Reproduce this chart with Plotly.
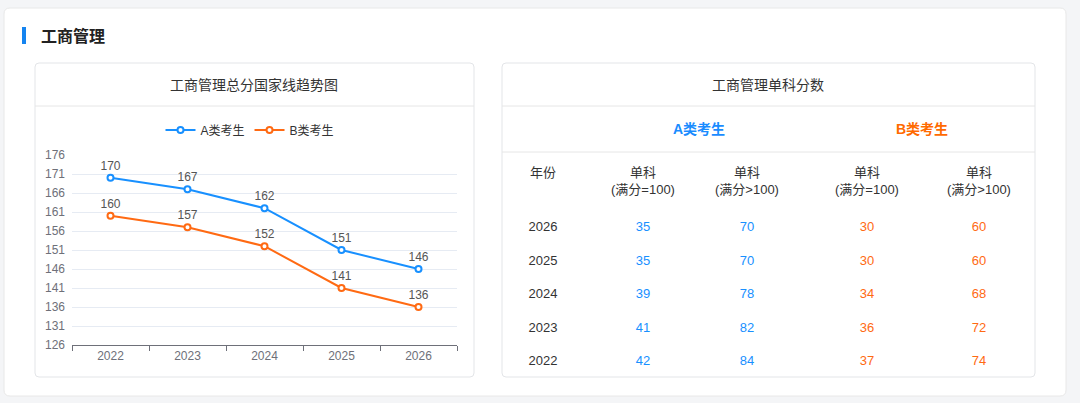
import plotly.graph_objects as go

# ---------------- data ----------------
years = ["2022", "2023", "2024", "2025", "2026"]
total_a = [170, 167, 162, 151, 146]
total_b = [160, 157, 152, 141, 136]
series_names = ["A类考生", "B类考生"]

table_years = ["2026", "2025", "2024", "2023", "2022"]
a_eq100 = [35, 35, 39, 41, 42]
a_gt100 = [70, 70, 78, 82, 84]
b_eq100 = [30, 30, 34, 36, 37]
b_gt100 = [60, 60, 68, 72, 74]

page_title = "工商管理"
chart_title = "工商管理总分国家线趋势图"
table_title = "工商管理单科分数"
col_headers = ["年份", "单科<br>(满分=100)", "单科<br>(满分>100)", "单科<br>(满分=100)", "单科<br>(满分>100)"]

# ---------------- layout helpers ----------------
W, H = 1080, 403
BLUE = "#1890ff"
ORANGE = "#ff6a13"
TXT = "#333333"
FONT = "Liberation Sans, Noto Sans CJK SC, sans-serif"


def px(x):
    return x / W


def py(y):
    return 1 - y / H


def rrect(x0, y0, x1, y1, r, fill, line):
    p = (f"M {px(x0 + r)},{py(y0)} L {px(x1 - r)},{py(y0)} "
         f"Q {px(x1)},{py(y0)} {px(x1)},{py(y0 + r)} "
         f"L {px(x1)},{py(y1 - r)} Q {px(x1)},{py(y1)} {px(x1 - r)},{py(y1)} "
         f"L {px(x0 + r)},{py(y1)} Q {px(x0)},{py(y1)} {px(x0)},{py(y1 - r)} "
         f"L {px(x0)},{py(y0 + r)} Q {px(x0)},{py(y0)} {px(x0 + r)},{py(y0)} Z")
    return dict(type="path", path=p, xref="paper", yref="paper",
                fillcolor=fill, line=dict(color=line, width=1), layer="below")


def hline(y, x0, x1, color="#e6e6e6"):
    return dict(type="line", xref="paper", yref="paper", x0=px(x0), x1=px(x1),
                y0=py(y), y1=py(y), line=dict(color=color, width=1), layer="below")


fig = go.Figure()

# line chart
for name, vals, col in [(series_names[0], total_a, BLUE), (series_names[1], total_b, ORANGE)]:
    fig.add_trace(go.Scatter(
        x=years, y=vals, name=name, mode="lines+markers+text",
        text=[str(v) for v in vals], textposition="top center",
        textfont=dict(color="#555555", size=12, family=FONT),
        line=dict(color=col, width=2),
        marker=dict(symbol="circle", size=6, color="white", line=dict(color=col, width=2)),
        xaxis="x", yaxis="y", cliponaxis=False,
    ))

# table cells
col_x = [543, 643, 747, 867, 979]
cols = [
    (table_years, "#333333"),
    (a_eq100, BLUE),
    (a_gt100, BLUE),
    (b_eq100, ORANGE),
    (b_gt100, ORANGE),
]
for cx, (vals, color) in zip(col_x, cols):
    fig.add_trace(go.Scatter(
        x=[cx] * len(table_years), y=table_years, mode="text",
        text=[str(v) for v in vals],
        textfont=dict(color=color, size=13, family=FONT),
        textposition="middle center", showlegend=False, hoverinfo="skip",
        xaxis="x2", yaxis="y2",
    ))

shapes = [
    rrect(4, 8, 1066, 396, 6, "white", "#e8e8e8"),
    dict(type="rect", xref="paper", yref="paper", x0=px(22), x1=px(26), y0=py(44), y1=py(27),
         fillcolor="#1584f0", line=dict(width=0), layer="below"),
    rrect(35, 63, 474, 377, 4, "white", "#e3e5e8"),
    hline(106, 35, 474),
    rrect(502, 63, 1035, 377, 4, "white", "#e3e5e8"),
    hline(106, 502, 1035),
    hline(152, 502, 1035),
]

annotations = [
    dict(text=f"<b>{page_title}</b>", x=px(39), y=py(36), xanchor="left", yanchor="middle",
         font=dict(size=16, color="#222222", family=FONT)),
    dict(text=chart_title, x=px(254), y=py(85), xanchor="center", yanchor="middle",
         font=dict(size=14, color=TXT, family=FONT)),
    dict(text=table_title, x=px(768), y=py(85), xanchor="center", yanchor="middle",
         font=dict(size=14, color=TXT, family=FONT)),
    dict(text=f"<b>{series_names[0]}</b>", x=px(699), y=py(129), xanchor="center", yanchor="middle",
         font=dict(size=14, color="#1a8cff", family=FONT)),
    dict(text=f"<b>{series_names[1]}</b>", x=px(922), y=py(129), xanchor="center", yanchor="middle",
         font=dict(size=14, color="#ff6a00", family=FONT)),
]
for cx, h in zip(col_x, col_headers):
    annotations.append(dict(text=h, x=px(cx), y=py(163), xanchor="center", yanchor="top",
                            align="center", font=dict(size=13, color=TXT, family=FONT)))
for a in annotations:
    a.update(xref="paper", yref="paper", showarrow=False)

fig.update_layout(
    width=W, height=H, margin=dict(l=0, r=0, t=0, b=0, pad=0, autoexpand=False),
    paper_bgcolor="#f4f5f7", plot_bgcolor="rgba(0,0,0,0)",
    font=dict(family=FONT, color=TXT),
    shapes=shapes, annotations=annotations,
    showlegend=True,
    legend=dict(orientation="h", x=px(250), xanchor="center", y=py(130), yanchor="middle",
                font=dict(size=12, color="#333333", family=FONT), bgcolor="rgba(0,0,0,0)",
                itemwidth=30, tracegroupgap=0),
    xaxis=dict(domain=[px(72), px(457)], type="category", range=[-0.5, 4.5],
               showline=True, linecolor="#6e7079", linewidth=1,
               ticks="outside", tickson="boundaries", ticklen=5, tickcolor="#6e7079",
               tickfont=dict(size=12, color="#6e7079", family=FONT), showgrid=False,
               anchor="y", fixedrange=True, automargin=False),
    yaxis=dict(domain=[py(345), py(155)], range=[126, 176], tick0=126, dtick=5,
               showgrid=True, gridcolor="#e6ebf3", gridwidth=1, zeroline=False,
               showline=False, ticks="", ticklabelstandoff=6,
               tickfont=dict(size=12, color="#6e7079", family=FONT), anchor="x",
               automargin=False),
    xaxis2=dict(domain=[0, 1], range=[0, W], visible=False, anchor="y2", automargin=False),
    yaxis2=dict(domain=[py(378.75), py(211.25)], type="category", categoryarray=years,
                categoryorder="array", range=[-0.5, 4.5], visible=False, anchor="x2",
                automargin=False),
)

fig.write_html("out.html")
